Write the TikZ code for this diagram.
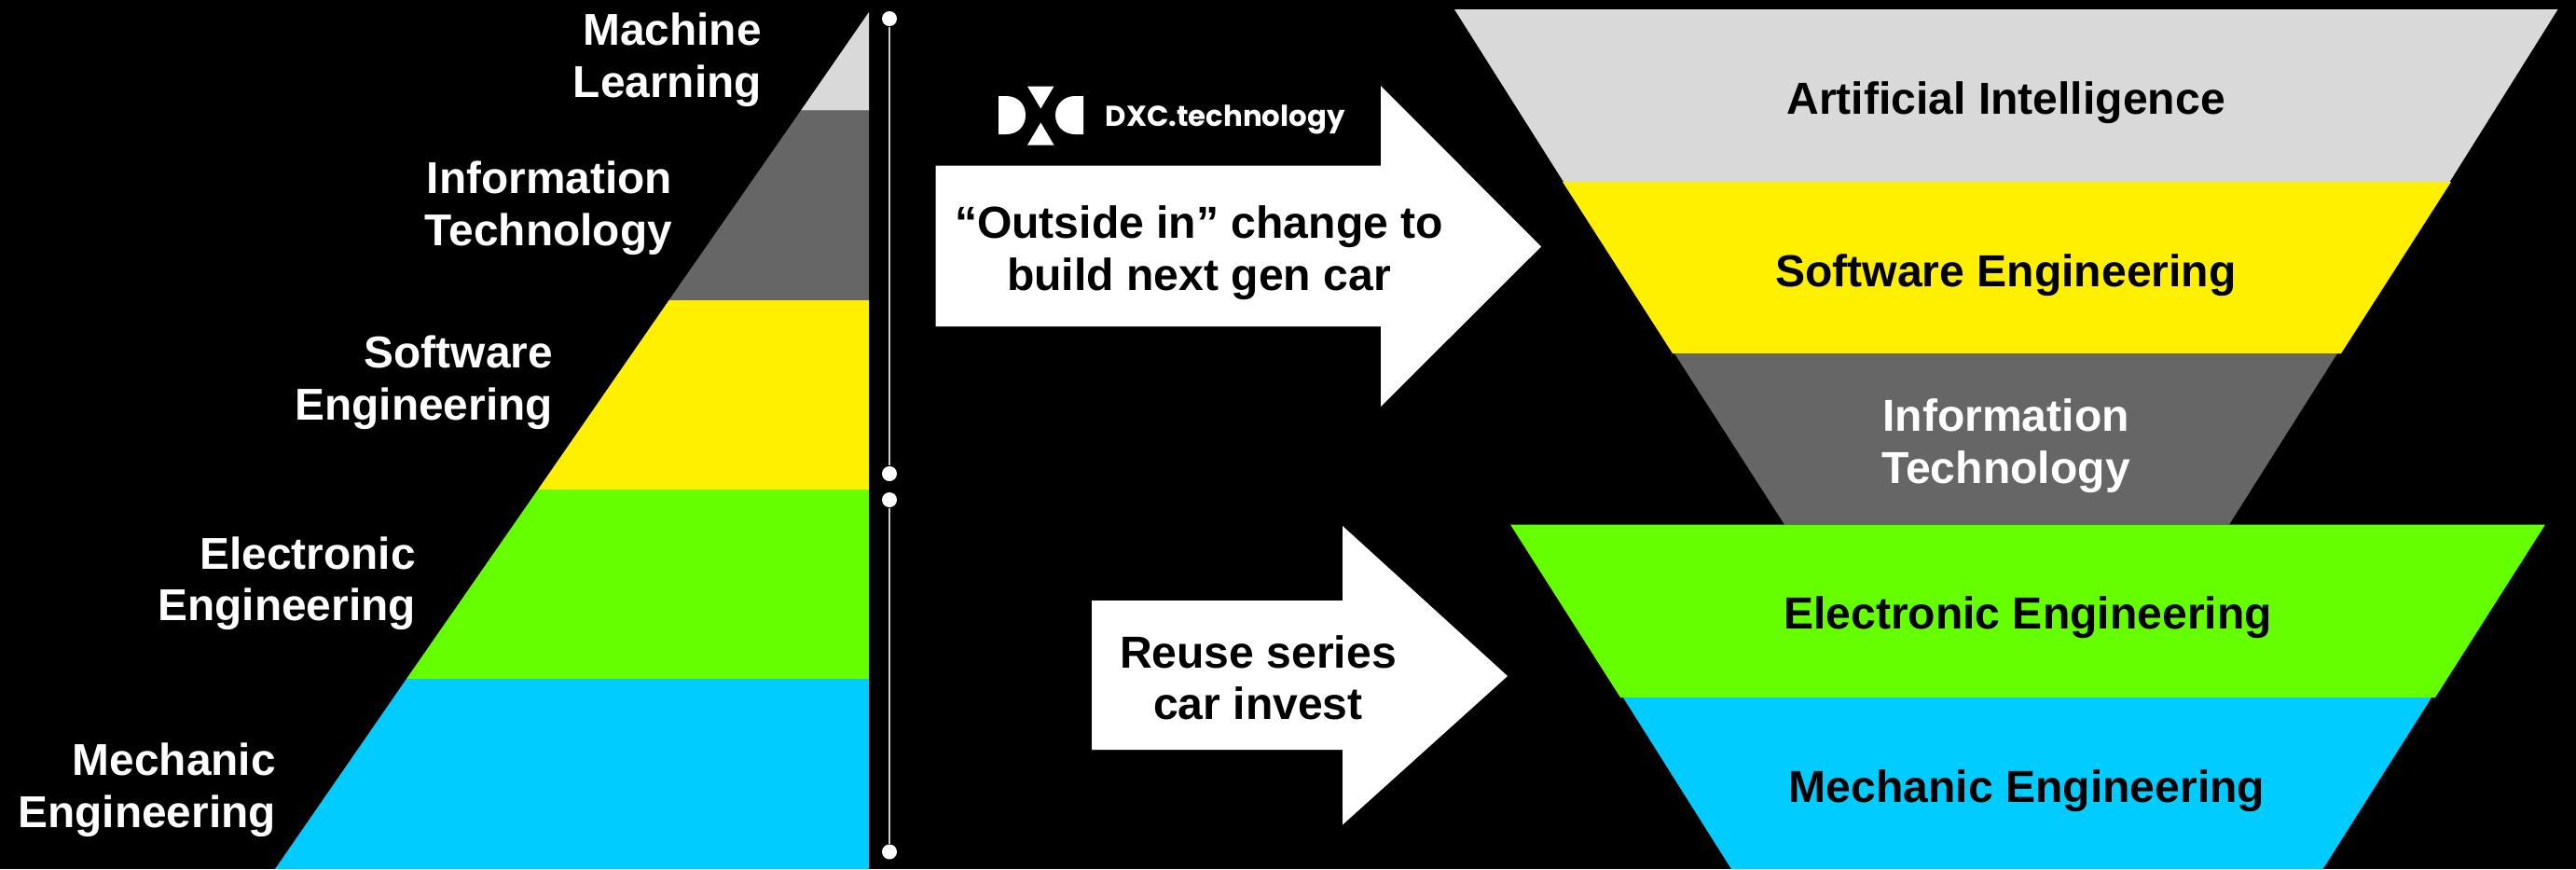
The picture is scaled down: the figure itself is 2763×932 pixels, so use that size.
\documentclass[tikz,border=0pt]{standalone}
\usepackage{fontspec}
\setmainfont{Liberation Sans}
\newfontfamily\logofont{Poppins}
\usepackage{tikz}
\usetikzlibrary{positioning}
\definecolor{aigray}{HTML}{D9D9D9}
\definecolor{itgray}{HTML}{666666}
\definecolor{swyellow}{HTML}{FFF000}
\definecolor{eegreen}{HTML}{66FF00}
\definecolor{meblue}{HTML}{00CCFF}
\tikzstyle{lefttext} = [anchor=east, align=right, inner sep=0pt, text=white, font=\fontsize{13.6}{15.8}\selectfont\bfseries]
\tikzstyle{midtext} = [align=center, inner sep=0pt, text=black, font=\fontsize{13.68}{15.8}\selectfont\bfseries]
\tikzstyle{dot} = [circle, fill=white, minimum size=0.16cm, inner sep=0pt]
\tikzstyle{rail} = [draw=white!80!black, line width=0.6pt]

\begin{document}
\begin{tikzpicture}[x=0.01cm, y=-0.01cm]
\useasboundingbox (0,0) rectangle (2763,932);
\fill [black] (0,0) rectangle (2763,932);
% left pyramid
\fill [aigray] (932,13) -- (932,118.5) -- (859,118.5) -- cycle;
\fill [itgray] (932,118.5) -- (932,322) -- (717.5,322) -- (859,118.5) -- cycle;
\fill [swyellow] (932,322) -- (932,525) -- (577,525) -- (717.5,322) -- cycle;
\fill [eegreen] (932,525) -- (932,728) -- (436,728) -- (577,525) -- cycle;
\fill [meblue] (932,728) -- (932,932) -- (295,932) -- (436,728) -- cycle;
\node (ml) [lefttext] at (817.5,64) {Machine\\Learning};
\node (it) [lefttext] at (721.5,223) {Information\\Technology};
\node (sw) [lefttext] at (593.5,410) {Software\\Engineering};
\node (ee) [lefttext] at (446.5,625.5) {Electronic\\Engineering};
\node (me) [lefttext] at (296.5,847) {Mechanic\\Engineering};
% rails
\node (topstart) [dot] at (954,20) {};
\node (topend) [dot] at (954,508) {};
\node (lowstart) [dot] at (954,536) {};
\node (lowend) [dot] at (954,913.5) {};
\draw [rail] (topstart) -- (topend);
\draw [rail] (lowstart) -- (lowend);
% logo
\fill [white] (1071,103) -- (1079,103) .. controls (1092,103) and (1100,112) .. (1100,123.5) .. controls (1100,135) and (1092,144) .. (1079,144) -- (1071,144) -- cycle;
\fill [white] (1162,103) -- (1153,103) .. controls (1141,103) and (1132,112) .. (1132,123.5) .. controls (1132,135) and (1141,144) .. (1153,144) -- (1162,144) -- cycle;
\fill [white] (1102,92.5) -- (1130.5,92.5) -- (1116.3,116.5) -- cycle;
\fill [white] (1102,155.5) -- (1130.5,155.5) -- (1116.3,131.5) -- cycle;
\node (logo) [anchor=base west, inner sep=0pt, text=white, font=\logofont\fontsize{8.76}{11}\selectfont\bfseries] at (1185,135) {DXC.technology};
% arrows
\fill [white] (1003.5,177.5) -- (1481,177.5) -- (1481,92) -- (1653,264.5) -- (1481,436) -- (1481,350) -- (1003.5,350) -- cycle;
\node (outside) [midtext] at (1286,271) {“Outside in” change to\\build next gen car};
\fill [white] (1171,644) -- (1440,644) -- (1440,564) -- (1617,725) -- (1440,884.5) -- (1440,804) -- (1171,804) -- cycle;
\node (reuse) [midtext] at (1349.5,727) {Reuse series\\car invest};
% right funnel
\fill [aigray] (1560,10) -- (2743.5,10) -- (2627.5,195) -- (1677,195) -- cycle;
\fill [swyellow] (1676,195) -- (2629,195) -- (2511,379) -- (1794,379) -- cycle;
\fill [itgray] (1796,379) -- (2507,379) -- (2391,562.5) -- (1914,562.5) -- cycle;
\fill [eegreen] (1620,562.5) -- (2730,562.5) -- (2612,748) -- (1738,748) -- cycle;
\fill [meblue] (1741,748) -- (2608,748) -- (2491.5,932) -- (1857,932) -- cycle;
\node (ai2) [midtext] at (2151.5,110) {Artificial Intelligence};
\node (sw2) [midtext] at (2151.5,295) {Software Engineering};
\node (it2) [midtext, text=white] at (2151.5,478) {Information\\Technology};
\node (ee2) [midtext] at (2175,662.5) {Electronic Engineering};
\node (me2) [midtext] at (2174,848) {Mechanic Engineering};
\end{tikzpicture}
\end{document}
